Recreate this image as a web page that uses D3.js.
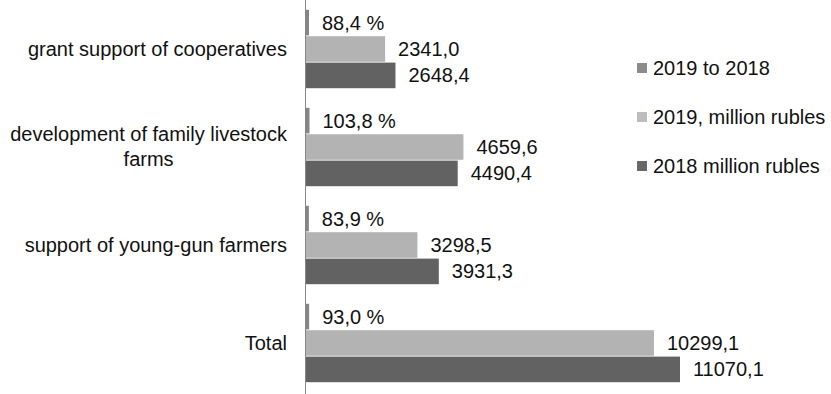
<!DOCTYPE html>
<html>
<head>
<meta charset="utf-8">
<script src="https://cdn.jsdelivr.net/npm/d3@7"></script>
<style>
  body { margin: 0; background: #fff; }
  text { font-family: "Liberation Sans", Arial, sans-serif; fill: #111; }
</style>
</head>
<body>
<svg></svg>
<script>
// categories, top to bottom
const categories = [
    ['grant support of cooperatives'],
    ['development of family livestock', 'farms'],
    ['support of young-gun farmers'],
    ['Total']
]
const seriesNames = ['2019 to 2018', '2019, million rubles', '2018 million rubles']
const ratio2019to2018 = [88.4, 103.8, 83.9, 93.0]
const rub2019 = [2341.0, 4659.6, 3298.5, 10299.1]
const rub2018 = [2648.4, 4490.4, 3931.3, 11070.1]
const colors = ['#858585', '#b3b3b3', '#626262']
const legendColors = ['#8b8b8b', '#bdbdbd', '#686868']

const svgWidth = 831, svgHeight = 394
const AXIS_X = 306
const FONT = 20

const fmt = v => v.toFixed(1).replace('.', ',')

const rows = categories.map((c, i) => ({
    idx: i,
    label: c,
    values: [
        { s: 0, v: ratio2019to2018[i], text: fmt(ratio2019to2018[i]) + ' %' },
        { s: 1, v: rub2019[i], text: fmt(rub2019[i]) },
        { s: 2, v: rub2018[i], text: fmt(rub2018[i]) }
    ]
}))

let svg = d3.select('svg')
    .attr('width', svgWidth)
    .attr('height', svgHeight)

let x = d3.scaleLinear()
    .domain([0, 12000])
    .range([AXIS_X, AXIS_X + 405.4])

let y = d3.scaleBand()
    .domain(rows.map(d => d.idx))
    .range([0, 392])
    .paddingInner(0.2)
    .paddingOuter(0.1)

let ySub = d3.scaleBand()
    .domain([0, 1, 2])
    .range([0, y.bandwidth()])
    .paddingInner(0.03)

let groups = svg.selectAll('g.group')
    .data(rows)
    .enter()
    .append('g')
        .attr('class', 'group')
        .attr('transform', d => `translate(0, ${y(d.idx)})`)

groups.selectAll('rect')
    .data(d => d.values)
    .enter()
    .append('rect')
        .attr('x', x(0))
        .attr('y', d => ySub(d.s))
        .attr('width', d => x(d.v) - x(0))
        .attr('height', ySub.bandwidth())
        .attr('fill', d => colors[d.s])

groups.selectAll('text.val')
    .data(d => d.values)
    .enter()
    .append('text')
        .attr('class', 'val')
        .attr('x', d => x(d.v) + 13)
        .attr('y', d => ySub(d.s) + ySub.bandwidth() / 2)
        .attr('dy', '0.35em')
        .style('font-size', FONT + 'px')
        .text(d => d.text)

// category labels (multi-line ones are centred on each other, block right-aligned)
const LABEL_RIGHT = 287, LINE_H = 25
groups.each(function(d) {
    let g = d3.select(this)
    let cy = y.bandwidth() / 2
    let t = g.append('text')
        .style('font-size', FONT + 'px')
        .attr('text-anchor', 'end')
    let n = d.label.length
    d.label.forEach((line, k) => {
        t.append('tspan')
            .attr('x', LABEL_RIGHT)
            .attr('y', cy + (k - (n - 1) / 2) * LINE_H)
            .attr('dy', '0.35em')
            .text(line)
    })
    if (n > 1) {
        let w = d3.max(t.selectAll('tspan').nodes(), nd => nd.getComputedTextLength())
        t.attr('text-anchor', 'middle')
        t.selectAll('tspan').attr('x', LABEL_RIGHT - w / 2)
    }
})

// vertical category axis line
svg.append('line')
    .attr('x1', AXIS_X - 0.5).attr('x2', AXIS_X - 0.5)
    .attr('y1', 0).attr('y2', svgHeight)
    .attr('stroke', '#868686')
    .attr('stroke-width', 1)

// legend
let legend = svg.append('g')
    .attr('transform', 'translate(637, 63)')

let items = legend.selectAll('g')
    .data(seriesNames)
    .enter()
    .append('g')
        .attr('transform', (d, i) => `translate(0, ${i * 49})`)

items.append('rect')
    .attr('width', 10)
    .attr('height', 10)
    .attr('fill', (d, i) => legendColors[i])

items.append('text')
    .attr('x', 16)
    .attr('y', 5)
    .attr('dy', '0.35em')
    .style('font-size', FONT + 'px')
    .text(d => d)
</script>
</body>
</html>
